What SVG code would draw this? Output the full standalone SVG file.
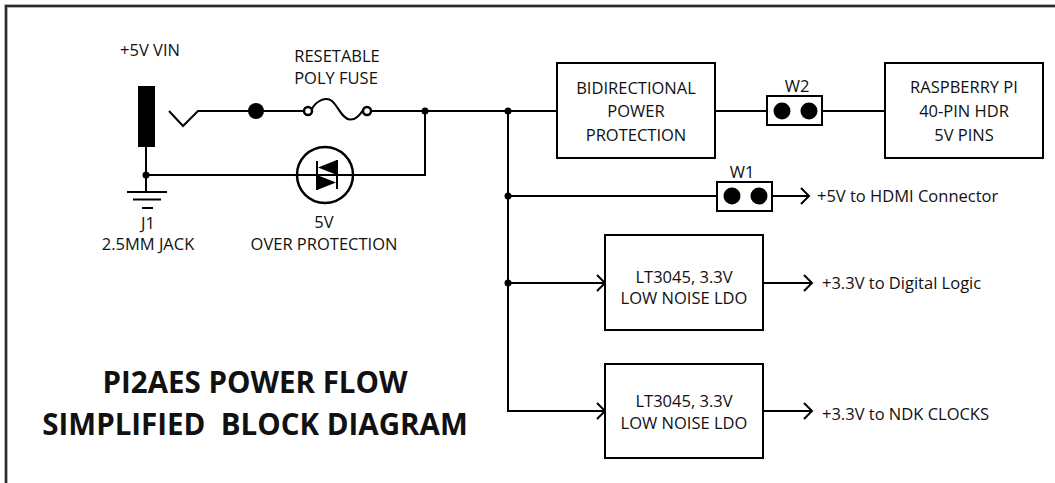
<svg xmlns="http://www.w3.org/2000/svg" width="1055" height="483" viewBox="0 0 1055 483">
<style>
  text { font-family: "Open Sans", "Noto Sans", "Liberation Sans", sans-serif; font-size: 16.5px; fill: #111; }
  .c { text-anchor: middle; }
  .title { font-weight: bold; font-size: 29.5px; text-anchor: middle; }
  .w { stroke: #000; stroke-width: 2; fill: none; }
  .box { stroke: #000; stroke-width: 2; fill: #fff; }
  .dot { fill: #000; }
</style>
<defs>
  <marker id="arr" markerUnits="userSpaceOnUse" markerWidth="12" markerHeight="20" viewBox="-10 -10 12 20" refX="0" refY="0" orient="auto">
    <path d="M-8,-8 L0,0 L-8,8" fill="none" stroke="#000" stroke-width="2"/>
  </marker>
</defs>
<rect width="1055" height="483" fill="#fff"/>
<g id="frame">
  <rect x="6" y="6" width="1100" height="600" fill="none" stroke="#999" stroke-width="3.5"/>
  <rect x="6" y="6" width="1100" height="600" fill="none" stroke="#111" stroke-width="1.6"/>
</g>

<g id="connectors">
  <!-- jack stem and ground -->
  <path class="w" d="M146,147 V192"/>
  <path class="w" d="M127,192 H167" stroke-width="2.5"/>
  <path class="w" d="M133,199.5 H161" stroke-width="2.5"/>
  <path class="w" d="M142,208 H153" stroke-width="2.5"/>
  <!-- switch contact and main line -->
  <path class="w" d="M169,111 L183,126 L198,111 H304"/>
  <path class="w" d="M371,111 H557"/>
  <!-- diode return line -->
  <path class="w" d="M146,175 H425 V111"/>
  <!-- to raspberry pi -->
  <path class="w" d="M715,111 H885"/>
  <!-- trunk -->
  <path class="w" d="M508,111 V411 H605" marker-end="url(#arr)"/>
  <path class="w" d="M508,196 H809" marker-end="url(#arr)"/>
  <path class="w" d="M508,283 H605" marker-end="url(#arr)"/>
  <path class="w" d="M763,283 H812" marker-end="url(#arr)"/>
  <path class="w" d="M763,411 H812" marker-end="url(#arr)"/>
  <!-- junction dots -->
  <circle class="dot" cx="146" cy="175" r="3.5"/>
  <circle class="dot" cx="425" cy="111" r="3.5"/>
  <circle class="dot" cx="508" cy="111" r="3.5"/>
  <circle class="dot" cx="508" cy="196" r="3.5"/>
  <circle class="dot" cx="508" cy="283" r="3.5"/>
</g>

<g id="jack">
  <rect x="138" y="86" width="17" height="61" fill="#000"/>
  <text class="c" x="150" y="56">+5V VIN</text>
  <text class="c" x="148" y="229">J1</text>
  <text class="c" x="148" y="250">2.5MM JACK</text>
</g>

<g id="switch-dot">
  <circle class="dot" cx="256" cy="111" r="8"/>
</g>

<g id="fuse">
  <circle cx="308" cy="111" r="4" fill="#fff" stroke="#000" stroke-width="2.5"/>
  <circle cx="367" cy="111" r="4" fill="#fff" stroke="#000" stroke-width="2.5"/>
  <path class="w" stroke-width="2.5" d="M312,109 C316,101 326,96 332,101 C338,106 342,119 350,119.5 C356,120 360,115 363,110"/>
  <text class="c" x="337" y="62">RESETABLE</text>
  <text class="c" x="336" y="84">POLY FUSE</text>
</g>

<g id="tvs">
  <circle cx="325" cy="175" r="28" fill="#fff" stroke="#000" stroke-width="2.5"/>
  <path class="w" d="M288,175 H362"/>
  <polygon points="337,160 337,175 318,167.5" fill="#000"/>
  <polygon points="317,175 317,190 336,182.5" fill="#000"/>
  <path class="w" d="M317,161 V190 M337,160 V189"/>
  <text class="c" x="324" y="228">5V</text>
  <text class="c" x="324" y="250">OVER PROTECTION</text>
</g>

<g id="bidir">
  <rect class="box" x="557" y="63" width="158" height="95"/>
  <text class="c" x="636" y="94">BIDIRECTIONAL</text>
  <text class="c" x="636" y="117">POWER</text>
  <text class="c" x="636" y="141">PROTECTION</text>
</g>

<g id="w2">
  <rect class="box" x="767" y="96" width="55" height="29"/>
  <circle class="dot" cx="782" cy="111" r="8.5"/>
  <circle class="dot" cx="809" cy="111" r="8.5"/>
  <text class="c" x="797" y="92">W2</text>
</g>

<g id="rpi">
  <rect class="box" x="885" y="63" width="158" height="95"/>
  <text class="c" x="964" y="93">RASPBERRY PI</text>
  <text class="c" x="964" y="117">40-PIN HDR</text>
  <text class="c" x="964" y="141">5V PINS</text>
</g>

<g id="w1">
  <rect class="box" x="717" y="182" width="55" height="29"/>
  <circle class="dot" cx="732" cy="196" r="8.5"/>
  <circle class="dot" cx="759" cy="196" r="8.5"/>
  <text class="c" x="742" y="178">W1</text>
  <text x="817" y="202">+5V to HDMI Connector</text>
</g>

<g id="ldo1">
  <rect class="box" x="605" y="235" width="158" height="95"/>
  <text class="c" x="684" y="283">LT3045, 3.3V</text>
  <text class="c" x="684" y="304">LOW NOISE LDO</text>
  <text x="822" y="289">+3.3V to Digital Logic</text>
</g>

<g id="ldo2">
  <rect class="box" x="605" y="364" width="158" height="94"/>
  <text class="c" x="684" y="407">LT3045, 3.3V</text>
  <text class="c" x="684" y="429">LOW NOISE LDO</text>
  <text x="822" y="420">+3.3V to NDK CLOCKS</text>
</g>

<g id="title">
  <text class="title" x="255" y="393">PI2AES POWER FLOW</text>
  <text class="title" x="255" y="435" xml:space="preserve">SIMPLIFIED  BLOCK DIAGRAM</text>
</g>
</svg>
